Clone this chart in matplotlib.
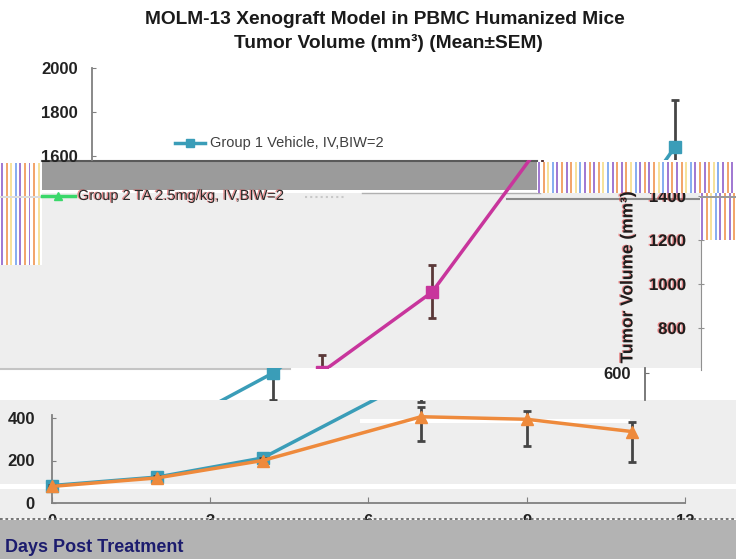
import numpy as np
import matplotlib
matplotlib.use("Agg")
import matplotlib.pyplot as plt
from matplotlib.patches import Rectangle
import matplotlib.patheffects as pe

plt.rcParams['font.family'] = ['Liberation Sans', 'DejaVu Sans']

# ---------------- data ----------------
days = [0, 2, 4, 7, 9, 11]
g1_mean = [82, 122, 212, 600, 963, 1641]
g1_err_lo = [6, 8, 12, 123, 118, 214]
g1_err_hi = [6, 8, 12, 77, 123, 214]
g2_mean = [78, 118, 200, 406, 394, 336]
g2_err_lo = [5, 8, 12, 115, 125, 145]
g2_err_hi = [5, 8, 12, 45, 40, 45]

title1 = "MOLM-13 Xenograft Model in PBMC Humanized Mice"
title2 = "Tumor Volume (mm\u00b3) (Mean\u00b1SEM)"
legend1 = "Group 1 Vehicle, IV,BIW=2"
legend2 = "Group 2 TA 2.5mg/kg, IV,BIW=2"
ylabel = "Tumor Volume (mm\u00b3)"
xlabel = "Days Post Treatment"
xticks = [0, 3, 6, 9, 12]
yticks_top = [1600, 1800, 2000]
yticks_right = [800, 1000, 1200, 1400]
yticks_mid = [600]
yticks_low = [0, 200, 400]

# ---------------- styles ----------------
TEAL = '#3a9db8'
ORANGE = '#ee8a3c'
MAGENTA = '#c8359c'
GREEN = '#3ad86a'
ECOL = '#454545'
SPINE = '#808080'
LGRAY = '#eeeeee'
W, H = 736, 559

fig = plt.figure(figsize=(W / 100, H / 100), dpi=100)


def rect_frac(x0, y0, x1, y1):
    return [x0 / W, 1 - y1 / H, (x1 - x0) / W, (y1 - y0) / H]


def pixel_axes(z):
    ax = fig.add_axes([0, 0, 1, 1], zorder=z)
    ax.set_xlim(0, W)
    ax.set_ylim(H, 0)
    ax.axis('off')
    ax.patch.set_alpha(0)
    return ax


def band_axes(x0, y0, x1, y1, ox, oy, sx, sy, z=2):
    ax = fig.add_axes(rect_frac(x0, y0, x1, y1), zorder=z)
    ax.set_xlim((x0 - ox) / sx, (x1 - ox) / sx)
    ax.set_ylim((oy - y1) / sy, (oy - y0) / sy)
    ax.patch.set_alpha(0)
    for s in ax.spines.values():
        s.set_visible(False)
    ax.set_xticks([])
    ax.set_yticks([])
    return ax


def draw_groups(ax, c1, ecol1=ECOL):
    ax.errorbar(days, g1_mean, yerr=[g1_err_lo, g1_err_hi], fmt='none',
                ecolor=ecol1, elinewidth=2, capsize=3, capthick=2, zorder=2)
    ax.plot(days, g1_mean, color=c1, lw=2.5, marker='s', ms=8.5, mec=c1, zorder=3)
    ax.errorbar(days, g2_mean, yerr=[g2_err_lo, g2_err_hi], fmt='none',
                ecolor=ECOL, elinewidth=2, capsize=3, capthick=2, zorder=4)
    ax.plot(days, g2_mean, color=ORANGE, lw=2.5, marker='^', ms=9, mec=ORANGE, zorder=5)


fringe = [pe.withSimplePatchShadow(offset=(-1.0, 0.3), shadow_rgbFace='#e03030', alpha=0.55)]

# ---------------- background ----------------
bg = pixel_axes(0)
bg.add_patch(Rectangle((0, 0), W, H, color='white', lw=0))
bg.add_patch(Rectangle((0, 190), 702, 178, color=LGRAY, lw=0))
bg.add_patch(Rectangle((42, 160), 495, 30, color='#9b9b9b', lw=0))
bg.plot([42, 537], [161, 161], color='#5a5a5a', lw=1.5)
bg.add_patch(Rectangle((42, 190), 495, 2.5, color='white', lw=0))
bg.add_patch(Rectangle((0, 400), W, 119, color=LGRAY, lw=0))
bg.add_patch(Rectangle((0, 484), W, 4.5, color='white', lw=0))
bg.add_patch(Rectangle((360, 419), 270, 3.5, color='white', lw=0))
bg.plot([0, 290], [368.5, 368.5], color='#c4c4c4', lw=1.5)
bg.plot([507, 736], [198.5, 198.5], color='#8a8a8a', lw=1.5)
bg.plot([362, 540], [193, 193], color='#b0b0b0', lw=1.0)

# ---------------- band A (top, original position) ----------------
axA = band_axes(0, 55, W, 160, 92, 508, 53.0, 0.22)
draw_groups(axA, TEAL)
axA.spines['left'].set_visible(True)
axA.spines['left'].set_position(('data', 0))
axA.spines['left'].set_bounds(1580, 2000)
axA.spines['left'].set_color(SPINE)
axA.spines['left'].set_linewidth(1.3)
axA.set_yticks(yticks_top)
axA.tick_params(axis='y', direction='in', length=3, color=SPINE, pad=10,
                labelsize=12)
for t in axA.get_yticklabels():
    t.set_fontweight('bold')
    t.set_color('#222222')

# ---------------- band C (shifted, magenta) ----------------
axC = band_axes(42, 160, W, 368, -63, 504, 55.0, 0.22)
draw_groups(axC, MAGENTA, ecol1='#5a3838')

axR = fig.add_axes(rect_frac(701, 160, 702, 368), zorder=2)
axR.set_ylim((504 - 368) / 0.22, (504 - 160) / 0.22)
axR.patch.set_alpha(0)
for k, s in axR.spines.items():
    s.set_visible(k == 'left')
axR.spines['left'].set_bounds(610, 1210)
axR.spines['left'].set_color('#909090')
axR.set_xticks([])
axR.set_yticks(yticks_right)
axR.tick_params(axis='y', direction='inout', length=4, color='#909090', pad=9,
                labelsize=12)
for t in axR.get_yticklabels():
    t.set_fontweight('bold')
    t.set_color('#1e1e1e')
    t.set_path_effects(fringe)

# ---------------- band D (shifted, white strip) ----------------
axD = band_axes(0, 368, W, 400, -98, 505, 53.0, 0.22)
draw_groups(axD, TEAL)

axDs = fig.add_axes(rect_frac(645, 368, 646, 400), zorder=2)
axDs.set_ylim((505 - 400) / 0.22, (505 - 368) / 0.22)
axDs.patch.set_alpha(0)
for k, s in axDs.spines.items():
    s.set_visible(k == 'left')
axDs.spines['left'].set_color('#707070')
axDs.spines['left'].set_linewidth(1.3)
axDs.set_xticks([])
axDs.set_yticks(yticks_mid)
axDs.tick_params(axis='y', direction='in', length=3, color='#707070', pad=10,
                 labelsize=12)
for t in axDs.get_yticklabels():
    t.set_fontweight('bold')
    t.set_color('#222222')

# ---------------- band E (bottom, shifted left) ----------------
axE = band_axes(0, 400, W, 519, 51.5, 503, 52.8, 0.2125)
draw_groups(axE, TEAL)
for k in ('left', 'bottom'):
    axE.spines[k].set_visible(True)
    axE.spines[k].set_position(('data', 0))
    axE.spines[k].set_color(SPINE)
    axE.spines[k].set_linewidth(1.3)
axE.spines['left'].set_bounds(0, 415)
axE.spines['bottom'].set_bounds(0, 12)
axE.set_yticks(yticks_low)
axE.set_xticks(xticks)
axE.tick_params(axis='y', direction='in', length=3, color=SPINE, pad=12,
                labelsize=12)
axE.tick_params(axis='x', direction='in', length=4, color=SPINE, pad=8,
                labelsize=12)
for t in axE.get_yticklabels() + axE.get_xticklabels():
    t.set_fontweight('bold')
    t.set_color('#222222')

# ---------------- overlay (stripes, bottom band, texts) ----------------
ov = pixel_axes(6)
stripe_cols = ['#a17ad2', '#f2a66c', '#f6e29c', '#88aff0', '#a17ad2', '#f2a66c']


def stripes(x0, y0, x1, y1):
    ov.add_patch(Rectangle((x0, y0), x1 - x0, y1 - y0, color='white', lw=0))
    for i, x in enumerate(np.arange(x0 + 1, x1 - 1, 4.6)):
        ov.add_patch(Rectangle((x, y0), 1.9, y1 - y0,
                               color=stripe_cols[i % len(stripe_cols)], lw=0))


stripes(0, 163, 42, 265)
stripes(537, 162, 736, 193)
stripes(700, 193, 736, 240)
ov.add_patch(Rectangle((0, 196), 42, 2, color='#dcdcdc', lw=0))
ov.add_patch(Rectangle((700, 196), 36, 2, color='#9a9a9a', lw=0))

ov.plot([0, 736], [518.5, 518.5], color='#6a6a6a', lw=1.3, ls=(0, (1.5, 1.5)))
ov.add_patch(Rectangle((0, 520), W, 39, color='#b3b3b3', lw=0))
ov.text(5, 548, xlabel, fontsize=13, fontweight='bold', color='#1c1c6e',
        ha='left', va='center')

# titles
ov.text(385, 20, title1, fontsize=13.8, fontweight='bold', color='#1a1a1a',
        ha='center', va='center')
ov.text(388, 43, title2, fontsize=13.8, fontweight='bold', color='#1a1a1a',
        ha='center', va='center')

# legend entries
ov.plot([175, 205], [143, 143], color=TEAL, lw=2.5)
ov.plot([190], [143], color=TEAL, marker='s', ms=6)
ov.text(210, 143, legend1, fontsize=10.5, color='#404040', ha='left', va='center')

ov.plot([42, 75], [196, 196], color=GREEN, lw=2.5)
ov.plot([58], [196], color=GREEN, marker='^', ms=6)
ov.text(78, 196, legend2, fontsize=10.5, color='#2a2a2a', ha='left', va='center',
        path_effects=fringe)
ov.plot([305, 345], [197, 197], color='#c8c8c8', lw=1.5, ls=(0, (1, 1.5)))

# right-side axis title
ov.text(628, 277, ylabel, fontsize=12.5, fontweight='bold', color='#1e1e1e',
        rotation=90, ha='center', va='center', path_effects=fringe)

fig.savefig('out.png', dpi=100)
